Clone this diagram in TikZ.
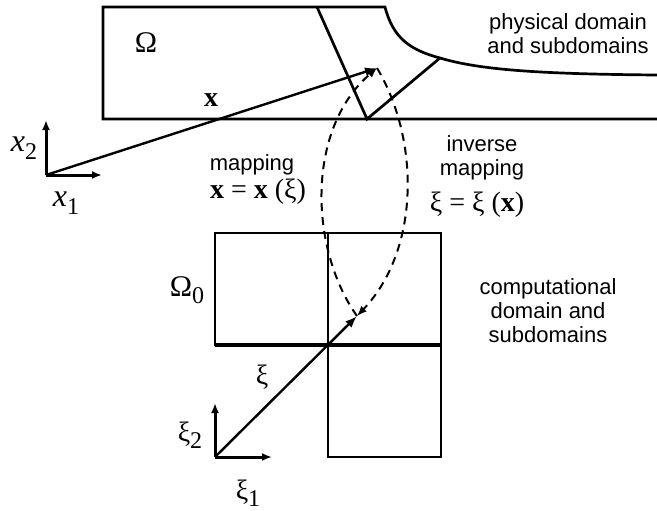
\documentclass[tikz,border=0pt]{standalone}
\usepackage{fontspec}
\setmainfont{Liberation Serif}
\newfontfamily\captfont{Liberation Sans}
\usetikzlibrary{arrows.meta}
\newcommand{\lowidx}[1]{\raisebox{-0.55ex}{\fontsize{12}{13}\selectfont #1}}

\begin{document}
\begin{tikzpicture}[
    x = 0.5pt,
    y = -0.5pt,
    regionline/.style = {
        line width = 1.35pt,
        line join = miter
    },
    cellline/.style = {
        line width = 1.2pt
    },
    axisarrow/.style = {
        -{Latex[length = 5pt, width = 4pt]},
        line width = 1.5pt
    },
    vecarrow/.style = {
        -{Latex[length = 6pt, width = 4.5pt]},
        line width = 1.2pt
    },
    mapcurve/.style = {
        -{Latex[length = 5pt, width = 4pt]},
        dash pattern = on 4pt off 3pt,
        line width = 1pt
    },
    captiontext/.style = {
        font = \captfont\fontsize{11}{12}\selectfont,
        align = center
    },
    symlabel/.style = {
        font = \fontsize{14}{16}\selectfont,
        inner sep = 1pt
    }
]
    \useasboundingbox (0,0) rectangle (657,510);

    % Points
    \coordinate (O) at (46,175);
    \coordinate (X) at (377,68);
    \coordinate (Oxi) at (215,457);
    \coordinate (XI) at (357,316);
    \coordinate (foot) at (367,119);
    \coordinate (meet) at (440,58);

    % Physical domain
    \draw [regionline] (657,119) -- (103,119) -- (103,7) -- (385,7)
        .. controls (393,38) and (410,50) .. (meet)
        .. controls (480,70) and (540,74) .. (657,75);
    \draw [regionline] (317,7) -- (foot) -- (meet);

    % Computational domain
    \draw [cellline] (215,233) rectangle (441,345);
    \draw [cellline] (328,233) -- (328,457) -- (441,457) -- (441,345);
    \draw [line width = 1.6pt] (215,345) -- (441,345);

    % Axes and vectors
    \draw [axisarrow] (O) -- (46,120);
    \draw [axisarrow] (O) -- (102,175);
    \draw [vecarrow] (O) -- (X);
    \draw [axisarrow] (Oxi) -- (215,403);
    \draw [axisarrow] (Oxi) -- (272,457);
    \draw [vecarrow] (Oxi) -- (XI);

    % Mappings
    \draw [mapcurve] (XI) .. controls (310,250) and (305,130) .. (X);
    \draw [mapcurve] (X) .. controls (420,140) and (420,250) .. (XI);

    % Labels
    \node [symlabel, font = \fontsize{15}{16}\selectfont] (omega) at (146,43) {Ω};
    \node [symlabel] (xlab) at (211,100) {\textbf{x}};
    \node [symlabel, font = \fontsize{16}{18}\selectfont] (xtwo) at (24,148) {\textit{x}\lowidx{2}};
    \node [symlabel, font = \fontsize{16}{18}\selectfont] (xone) at (66,203) {\textit{x}\lowidx{1}};
    \node [captiontext] (phys) at (568,34) {physical domain\\and subdomains};
    \node [captiontext] (map) at (252,165) {mapping};
    \node [symlabel] (mapeq) at (258,192) {\textbf{x} = \textbf{x} (ξ)};
    \node [captiontext] (inv) at (482,158) {inverse\\mapping};
    \node [symlabel] (inveq) at (477,205) {ξ = ξ (\textbf{x})};
    \node [symlabel, font = \fontsize{15}{16}\selectfont] (omegazero) at (187,290) {Ω\lowidx{0}};
    \node [captiontext] (comp) at (548,311) {computational\\domain and\\subdomains};
    \node [symlabel] (xilab) at (262,377) {ξ};
    \node [symlabel] (xitwo) at (190,435) {ξ\lowidx{2}};
    \node [symlabel] (xione) at (248,493) {ξ\lowidx{1}};

\end{tikzpicture}
\end{document}
